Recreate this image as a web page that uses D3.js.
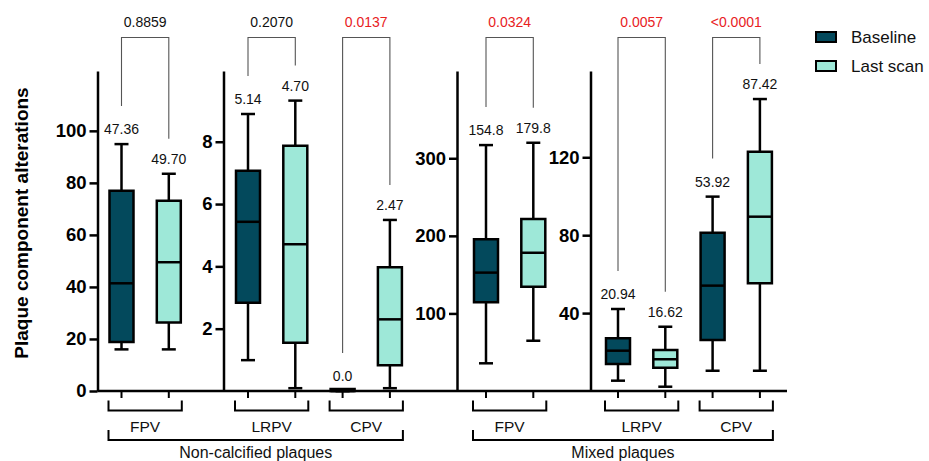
<!DOCTYPE html>
<html>
<head>
<meta charset="utf-8">
<script src="https://cdn.jsdelivr.net/npm/d3@7"></script>
<style>
  body { margin: 0; background: #fff; }
  text { font-family: "Liberation Sans", Arial, sans-serif; }
</style>
</head>
<body>
<script>
// data
const categories = ["FPV", "LRPV", "CPV", "FPV", "LRPV", "CPV"];
const groupNames = ["Non-calcified plaques", "Mixed plaques"];
const groupOfCategory = [0, 0, 0, 1, 1, 1];
const panelOfCategory = [0, 1, 1, 2, 3, 3];
const series = ["Baseline", "Last scan"];

// [min, q1, median, q3, max]
const baselineStats = [
    [16.0, 18.8, 41.4, 77.0, 94.9],
    [0.99, 2.83, 5.43, 7.07, 8.89],
    [0, 0, 0, 0, 0],
    [35.7, 114.4, 152.6, 195.6, 317],
    [5.3, 13.9, 20.7, 27.1, 42.1],
    [10.4, 26.2, 54.1, 81.3, 99.8]
];
const lastScanStats = [
    [16.0, 26.3, 49.5, 73.1, 83.5],
    [0.09, 1.55, 4.71, 7.87, 9.32],
    [0.09, 0.83, 2.30, 3.97, 5.49],
    [64.8, 134.4, 178.2, 221.7, 320],
    [2.2, 12.0, 16.3, 21.1, 33.0],
    [10.4, 55.3, 89.5, 122.9, 149.9]
];
const baselineMeans = ["47.36", "5.14", "0.0", "154.8", "20.94", "53.92"];
const lastScanMeans = ["49.70", "4.70", "2.47", "179.8", "16.62", "87.42"];
const pValues = ["0.8859", "0.2070", "0.0137", "0.0324", "0.0057", "<0.0001"];

const panelTicks = [[0, 20, 40, 60, 80, 100], [2, 4, 6, 8], [100, 200, 300], [40, 80, 120]];
const panelMax = [123, 10.27, 412.5, 164.3];

// layout
const colors = ["#03495c", "#9ee8d8"];
const pRed = "#e8211e";
const panelAxisX = [97.5, 223.5, 457, 590.5];
const panelFirstOffset = [24, 24.5, 29, 27.5];
const step = 47.3;
const yBottom = 391, yTop = 71;
const boxW = 24, capW = 14;

const svg = d3.select("body").append("svg")
    .attr("width", 929)
    .attr("height", 461);

// x baseline shared by all panels
svg.append("line")
    .attr("x1", panelAxisX[0]).attr("x2", 787)
    .attr("y1", yBottom).attr("y2", yBottom)
    .attr("stroke", "#000").attr("stroke-width", 2.5);

let yScales = [];
let xScales = [];

panelTicks.forEach((ticks, p) => {
    const y = d3.scaleLinear().domain([0, panelMax[p]]).range([yBottom, yTop]);
    yScales.push(y);

    const keys = [];
    categories.forEach((c, i) => {
        if (panelOfCategory[i] == p) { keys.push(i + "-0"); keys.push(i + "-1"); }
    });
    const start = panelAxisX[p] + panelFirstOffset[p];
    const x = d3.scalePoint().domain(keys).range([start, start + step * (keys.length - 1)]);
    xScales.push(x);

    const g = svg.append("g")
        .attr("transform", `translate(${panelAxisX[p]},0)`)
        .call(d3.axisLeft(y).tickValues(ticks).tickSize(8).tickSizeOuter(0).tickPadding(3));
    g.select(".domain").attr("stroke-width", 2.5);
    g.selectAll(".tick line").attr("stroke-width", 2.5);
    g.selectAll(".tick text")
        .attr("font-size", "18.5px")
        .attr("font-weight", "bold")
        .attr("fill", "#000")
        .attr("font-family", "Liberation Sans, Arial, sans-serif");
});

// boxes
const allStats = [baselineStats, lastScanStats];
const allMeans = [baselineMeans, lastScanMeans];

function boxCenter(i, s) {
    const p = panelOfCategory[i];
    return xScales[p](i + "-" + s);
}

categories.forEach((c, i) => {
    const p = panelOfCategory[i];
    const y = yScales[p];
    [0, 1].forEach(s => {
        const st = allStats[s][i];
        const cx = boxCenter(i, s);
        const g = svg.append("g").attr("stroke", "#000").attr("stroke-width", 2.5);
        g.append("line").attr("x1", cx).attr("x2", cx).attr("y1", y(st[0])).attr("y2", y(st[1]));
        g.append("line").attr("x1", cx).attr("x2", cx).attr("y1", y(st[3])).attr("y2", y(st[4]));
        g.append("line").attr("x1", cx - capW / 2).attr("x2", cx + capW / 2).attr("y1", y(st[0])).attr("y2", y(st[0]));
        g.append("line").attr("x1", cx - capW / 2).attr("x2", cx + capW / 2).attr("y1", y(st[4])).attr("y2", y(st[4]));
        // path so a zero-height box still shows its outline
        const top = Math.min(y(st[3]), y(st[1]) - 2);
        g.append("path")
            .attr("d", `M${cx - boxW / 2},${top}H${cx + boxW / 2}V${y(st[1])}H${cx - boxW / 2}Z`)
            .attr("fill", colors[s]);
        g.append("line").attr("x1", cx - boxW / 2).attr("x2", cx + boxW / 2).attr("y1", y(st[2])).attr("y2", y(st[2]));

        svg.append("text")
            .attr("x", cx)
            .attr("y", y(st[4]) - 15)
            .attr("dy", "0.35em")
            .attr("text-anchor", "middle")
            .attr("font-size", "14px")
            .attr("fill", "#111")
            .text(allMeans[s][i]);
    });

    // p-value bracket
    const x0 = boxCenter(i, 0), x1 = boxCenter(i, 1);
    const leg0 = y(baselineStats[i][4]) - 38;
    const leg1 = y(lastScanStats[i][4]) - 35;
    const bracketY = 37.5;
    svg.append("path")
        .attr("d", `M${x0},${leg0}V${bracketY}H${x1}V${leg1}`)
        .attr("fill", "none")
        .attr("stroke", "#555")
        .attr("stroke-width", 1.1);
    const pNum = parseFloat(pValues[i].replace("<", ""));
    svg.append("text")
        .attr("x", (x0 + x1) / 2)
        .attr("y", 22)
        .attr("dy", "0.35em")
        .attr("text-anchor", "middle")
        .attr("font-size", "14px")
        .attr("fill", pNum < 0.05 ? pRed : "#111")
        .text(pValues[i]);

    // category ticks and bracket under the axis
    const b = svg.append("g").attr("stroke", "#000").attr("stroke-width", 2).attr("fill", "none");
    [x0, x1].forEach(xx => {
        b.append("line").attr("x1", xx).attr("x2", xx).attr("y1", yBottom).attr("y2", 398);
    });
    b.append("path").attr("d", `M${x0 - 13},400.5V410.5H${x1 + 13}V400.5`);
    svg.append("text")
        .attr("x", (x0 + x1) / 2)
        .attr("y", 426.5)
        .attr("dy", "0.35em")
        .attr("text-anchor", "middle")
        .attr("font-size", "15.5px")
        .attr("fill", "#111")
        .text(c);
});

// group brackets
groupNames.forEach((name, gi) => {
    const idx = categories.map((c, i) => i).filter(i => groupOfCategory[i] == gi);
    const left = boxCenter(idx[0], 0) - 13;
    const right = boxCenter(idx[idx.length - 1], 1) + 13;
    svg.append("path")
        .attr("d", `M${left},430V440H${right}V430`)
        .attr("fill", "none")
        .attr("stroke", "#000")
        .attr("stroke-width", 2);
    svg.append("text")
        .attr("x", (left + right) / 2)
        .attr("y", 452.5)
        .attr("dy", "0.35em")
        .attr("text-anchor", "middle")
        .attr("font-size", "16px")
        .attr("fill", "#111")
        .text(name);
});

// y title
svg.append("text")
    .attr("transform", "translate(28,223) rotate(-90)")
    .attr("text-anchor", "middle")
    .attr("font-size", "19px")
    .attr("font-weight", "bold")
    .attr("fill", "#000")
    .text("Plaque component alterations");

// legend
series.forEach((name, s) => {
    const ly = 37 + s * 29;
    svg.append("rect")
        .attr("x", 816).attr("y", ly - 5)
        .attr("width", 20).attr("height", 10)
        .attr("fill", colors[s])
        .attr("stroke", "#000")
        .attr("stroke-width", 2);
    svg.append("text")
        .attr("x", 851).attr("y", ly)
        .attr("dy", "0.35em")
        .attr("font-size", "17px")
        .attr("fill", "#111")
        .text(name);
});
</script>
</body>
</html>
